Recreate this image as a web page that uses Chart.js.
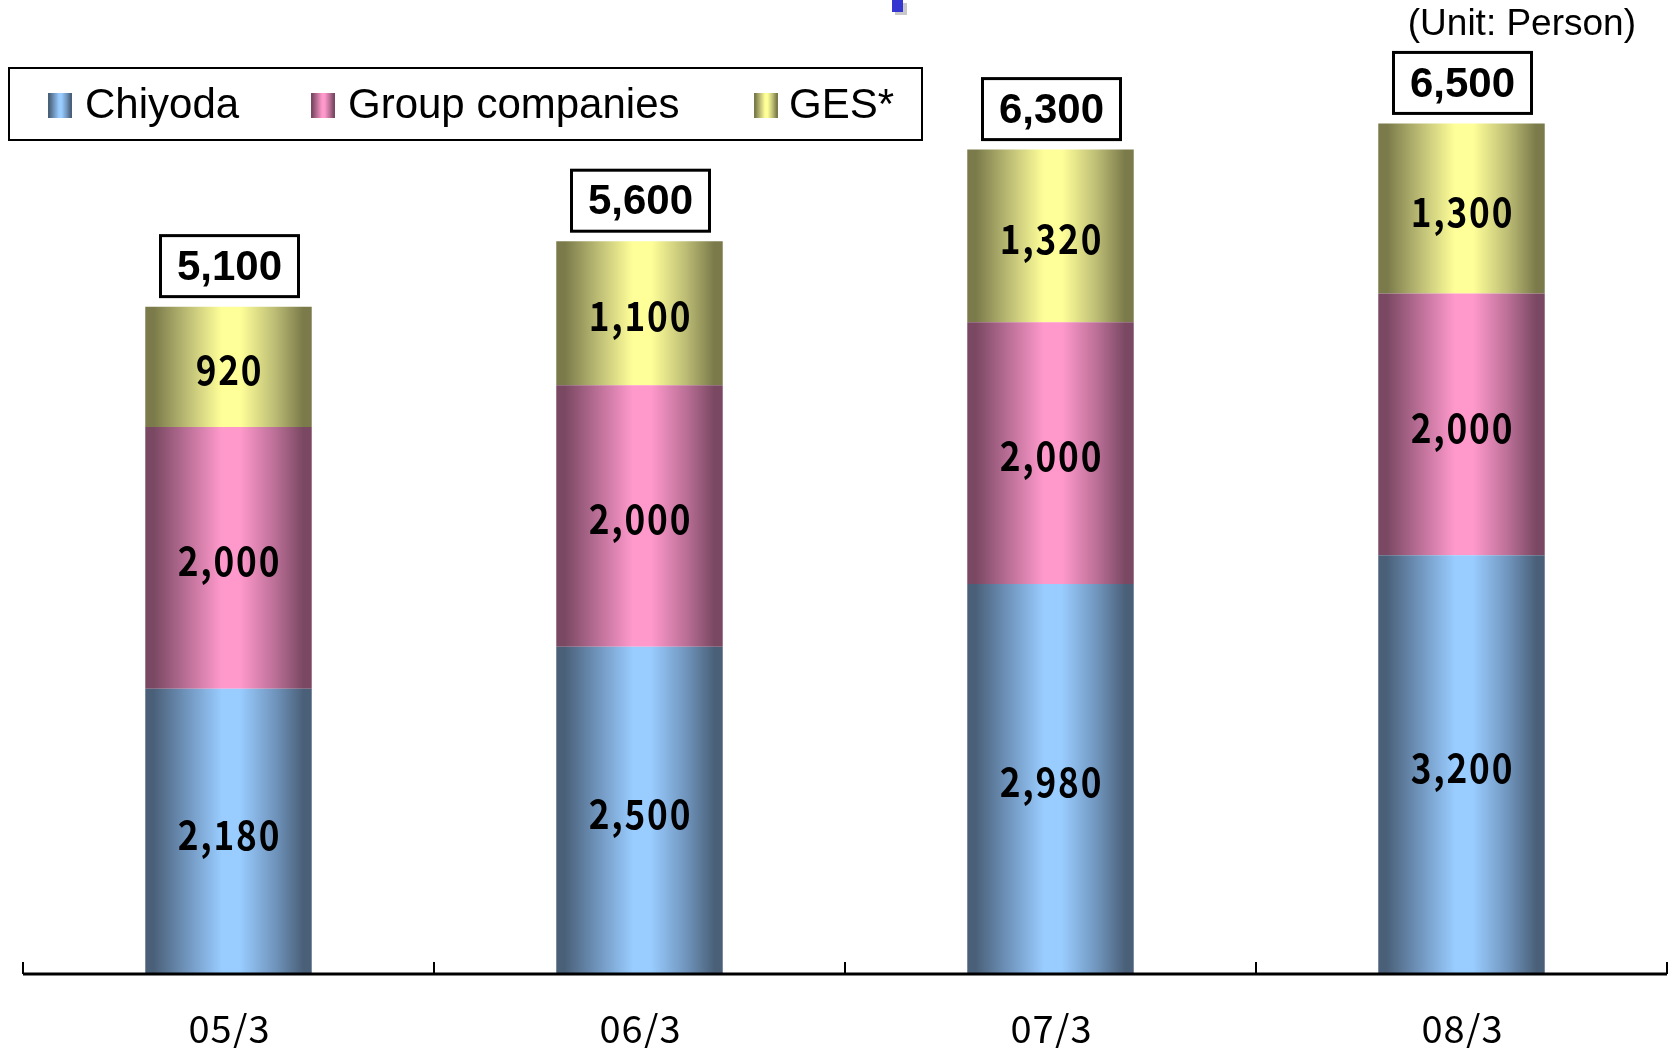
<!DOCTYPE html>
<html>
<head>
<meta charset="utf-8">
<title>Employees</title>
<script src="https://cdn.jsdelivr.net/npm/chart.js@4.4.0/dist/chart.umd.min.js"></script>
<style>
    html, body { margin: 0; padding: 0; background: #fff; }
    #wrap { width: 1675px; height: 1048px; position: relative; }
</style>
</head>
<body>
<div id="wrap"><canvas id="staffChart"></canvas></div>
<script>
const periods = ["05/3", "06/3", "07/3", "08/3"];
const chiyoda = [2180, 2500, 2980, 3200];
const groupCompanies = [2000, 2000, 2000, 2000];
const ges = [920, 1100, 1320, 1300];
const totals = [5100, 5600, 6300, 6500];
const seriesNames = ["Chiyoda", "Group companies", "GES*"];
const unitLabel = "(Unit: Person)";

// edge / mid / highlight tones for the cylinder-like shading
const blueTone = ["#4a6079", "#7095bd", "#99ccff"];
const pinkTone = ["#7a4862", "#bb6f97", "#ff99cc"];
const yellowTone = ["#7a7a4a", "#bcbc75", "#ffff99"];
const tones = [blueTone, pinkTone, yellowTone];

const barShare = 0.405;

function fmt(v) {
    return v.toLocaleString("en-US");
}

function shade(ctx, x0, x1, tone) {
    const g = ctx.createLinearGradient(x0, 0, x1, 0);
    g.addColorStop(0, tone[0]);
    g.addColorStop(0.05, tone[0]);
    g.addColorStop(0.25, tone[1]);
    g.addColorStop(0.46, tone[2]);
    g.addColorStop(0.57, tone[2]);
    g.addColorStop(0.78, tone[1]);
    g.addColorStop(0.95, tone[0]);
    g.addColorStop(1, tone[0]);
    return g;
}

function fillFor(tone) {
    return function (context) {
        const chart = context.chart;
        if (!chart.chartArea || context.dataIndex === undefined) return tone[2];
        const xs = chart.scales.x;
        const cx = xs.getPixelForValue(context.dataIndex);
        const half = xs.width / periods.length * barShare / 2;
        return shade(chart.ctx, cx - half, cx + half, tone);
    };
}

const labelPlugin = {
    id: "segmentLabels",
    afterDatasetsDraw(chart) {
        const ctx = chart.ctx;
        ctx.save();
        ctx.fillStyle = "#000";
        ctx.textAlign = "center";
        ctx.textBaseline = "middle";
        ctx.font = 'bold 40px "Noto Sans CJK JP"';
        ctx.letterSpacing = "2px";
        // narrow, widely spaced digits inside the bars
        chart.data.datasets.forEach((ds, i) => {
            chart.getDatasetMeta(i).data.forEach((bar, j) => {
                ctx.save();
                ctx.translate(bar.x + 1, (bar.y + bar.base) / 2 + 3);
                ctx.scale(0.88, 1);
                ctx.fillText(fmt(ds.data[j]), 0, 0);
                ctx.restore();
            });
        });
        ctx.letterSpacing = "0px";

        // total boxes above each stack
        ctx.font = 'bold 42px "Liberation Sans", Arial';
        ctx.lineWidth = 3;
        ctx.strokeStyle = "#000";
        chart.getDatasetMeta(2).data.forEach((bar, j) => {
            const w = 138, h = 61;
            const bx = bar.x + 1 - w / 2;
            const by = bar.y - 10 - h;
            ctx.fillStyle = "#fff";
            ctx.fillRect(bx, by, w, h);
            ctx.strokeRect(bx, by, w, h);
            ctx.fillStyle = "#000";
            ctx.fillText(fmt(totals[j]), bar.x + 1, by + h / 2 + 2);
        });
        ctx.restore();
    },
    afterDraw(chart) {
        const ctx = chart.ctx;
        const xs = chart.scales.x;
        const area = chart.chartArea;
        const step = xs.width / periods.length;
        ctx.save();

        // category axis with boundary ticks
        ctx.strokeStyle = "#000";
        ctx.lineWidth = 3;
        ctx.beginPath();
        ctx.moveTo(area.left, area.bottom);
        ctx.lineTo(area.right, area.bottom);
        ctx.stroke();
        ctx.lineWidth = 2;
        for (let i = 0; i <= periods.length; i++) {
            const tx = Math.round(area.left + i * step);
            ctx.beginPath();
            ctx.moveTo(tx, area.bottom);
            ctx.lineTo(tx, area.bottom - 12);
            ctx.stroke();
        }
        ctx.fillStyle = "#000";
        ctx.textAlign = "center";
        ctx.textBaseline = "middle";
        ctx.font = '38px "Noto Sans CJK JP"';
        ctx.letterSpacing = "1px";
        periods.forEach((p, i) => {
            ctx.fillText(p, xs.getPixelForValue(i) + 1, 1029);
        });
        ctx.letterSpacing = "0px";

        // legend
        ctx.lineWidth = 2;
        ctx.strokeRect(9, 68, 913, 72);
        const keyX = [48, 311, 754];
        const textX = [85, 348, 789];
        ctx.textAlign = "left";
        ctx.font = '42px "Liberation Sans", Arial';
        seriesNames.forEach((name, i) => {
            ctx.fillStyle = shade(ctx, keyX[i], keyX[i] + 24, tones[i]);
            ctx.fillRect(keyX[i], 93, 24, 25);
            ctx.fillStyle = "#000";
            ctx.fillText(name, textX[i], 106);
        });

        // unit note
        ctx.textAlign = "right";
        ctx.font = '37px "Liberation Sans", Arial';
        ctx.fillText(unitLabel, 1636, 25);

        // small blue marker at the top edge
        ctx.fillStyle = "#c8c8c8";
        ctx.fillRect(895, 3, 12, 12);
        ctx.fillStyle = "#3535d0";
        ctx.fillRect(892, 0, 11, 12);
        ctx.restore();
    }
};

const ctx = document.getElementById("staffChart").getContext("2d");
new Chart(ctx, {
    type: "bar",
    data: {
        labels: periods,
        datasets: [
            { label: seriesNames[0], data: chiyoda, backgroundColor: fillFor(blueTone) },
            { label: seriesNames[1], data: groupCompanies, backgroundColor: fillFor(pinkTone) },
            { label: seriesNames[2], data: ges, backgroundColor: fillFor(yellowTone) }
        ]
    },
    options: {
        responsive: true,
        maintainAspectRatio: false,
        animation: false,
        datasets: { bar: { barPercentage: 1, categoryPercentage: barShare, borderWidth: 0 } },
        layout: { padding: { left: 23, right: 8, top: 58, bottom: 74 } },
        scales: {
            x: { stacked: true, display: false },
            y: { stacked: true, display: false, min: 0, max: 7000 }
        },
        plugins: { legend: { display: false }, tooltip: { enabled: false } }
    },
    plugins: [labelPlugin]
});
</script>
</body>
</html>
